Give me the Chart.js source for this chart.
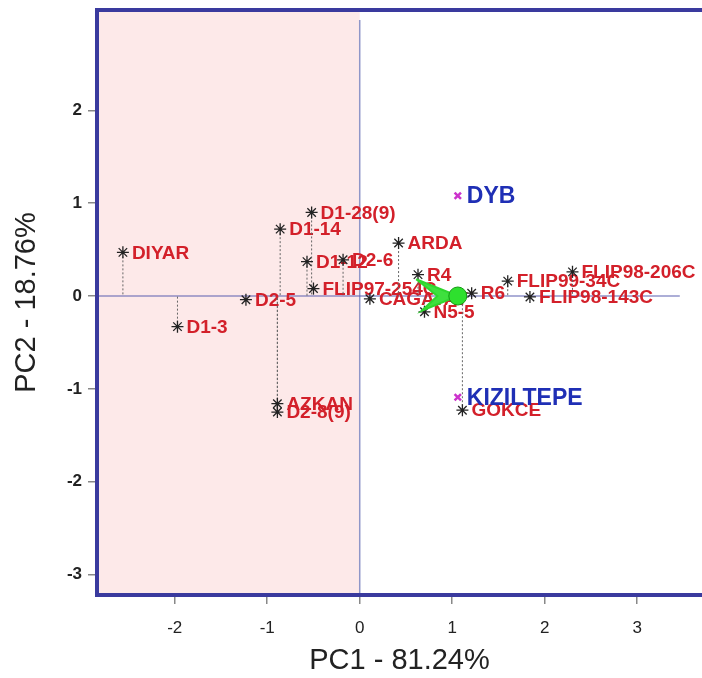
<!DOCTYPE html>
<html>
<head>
<meta charset="utf-8">
<script src="https://cdn.jsdelivr.net/npm/chart.js@4.4.1/dist/chart.umd.min.js"></script>
<style>
  html, body { margin: 0; padding: 0; background: #fff; overflow: hidden; }
  #wrap { width: 702px; height: 678px; }
</style>
</head>
<body>
<div id="wrap"><canvas id="biplot"></canvas></div>
<script>
// genotypes (PC1, PC2 scores)
const genotypes = ['DIYAR', 'D1-3', 'D2-5', 'D1-14', 'D1-28(9)', 'D1-12', 'D2-6', 'FLIP97-254C',
  'CAGATAY', 'ARDA', 'R4', 'N5-5', 'R6', 'FLIP99-34C', 'FLIP98-206C', 'FLIP98-143C',
  'AZKAN', 'D2-8(9)', 'GOKCE']
const genoPC1 = [-2.56, -1.97, -1.23, -0.86, -0.52, -0.57, -0.18, -0.50,
  0.11, 0.42, 0.63, 0.70, 1.21, 1.60, 2.30, 1.84,
  -0.89, -0.89, 1.11]
const genoPC2 = [0.47, -0.33, -0.04, 0.72, 0.90, 0.37, 0.39, 0.08,
  -0.03, 0.57, 0.23, -0.17, 0.03, 0.16, 0.26, -0.01,
  -1.16, -1.25, -1.23]

// environments
const environments = ['DYB', 'KIZILTEPE']
const envPC1 = [1.06, 1.06]
const envPC2 = [1.08, -1.09]

// average environment point and arrow head
const avgPC1 = [1.06]
const avgPC2 = [0.0]
const arrowPC1 = [0.61, 1.06, 0.67, 0.84, 0.61]
const arrowPC2 = [0.18, 0.0, -0.16, 0.0, 0.18]

const xTicks = [-2, -1, 0, 1, 2, 3]
const yTicks = [2, 1, 0, -1, -2, -3]

const blueBorder = '#3a3a9e'
const redLabel = '#d3202a'
const blueLabel = '#1f2fb5'
const fontFam = '"Liberation Sans", Arial, sans-serif'

// dotted drop lines from each genotype to PC2 = 0
let dropData = []
for (let i = 0; i < genotypes.length; i++) {
  dropData.push({x: genoPC1[i], y: genoPC2[i]})
  dropData.push({x: genoPC1[i], y: 0})
  dropData.push({x: genoPC1[i], y: null})
}

const genoData = genotypes.map((g, i) => ({x: genoPC1[i], y: genoPC2[i]}))
const envData = environments.map((e, i) => ({x: envPC1[i], y: envPC2[i]}))
const avgData = avgPC1.map((v, i) => ({x: v, y: avgPC2[i]}))
const arrowData = arrowPC1.map((v, i) => ({x: v, y: arrowPC2[i]}))

// pink half, axis cross lines, point labels and top border
const backdrop = {
  id: 'backdrop',
  beforeDraw(chart) {
    const {ctx, chartArea, scales} = chart
    const x0 = scales.x.getPixelForValue(0)
    const y0 = scales.y.getPixelForValue(0)
    ctx.save()
    ctx.fillStyle = '#fde9e9'
    ctx.fillRect(chartArea.left, chartArea.top, x0 - chartArea.left, chartArea.bottom - chartArea.top)
    ctx.lineWidth = 1.5
    ctx.strokeStyle = '#8f96c8'
    ctx.beginPath()
    ctx.moveTo(x0, chartArea.top + 10)
    ctx.lineTo(x0, chartArea.bottom)
    ctx.stroke()
    ctx.strokeStyle = '#5a5fb0'
    ctx.lineWidth = 1.2
    ctx.beginPath()
    ctx.moveTo(chartArea.left, y0)
    ctx.lineTo(scales.x.getPixelForValue(3.46), y0)
    ctx.stroke()
    ctx.restore()
  },
  beforeDatasetsDraw(chart) {
    const {ctx, scales} = chart
    ctx.save()
    ctx.textBaseline = 'middle'
    ctx.font = 'bold 19px ' + fontFam
    ctx.fillStyle = redLabel
    genotypes.forEach((g, i) => {
      ctx.fillText(g, scales.x.getPixelForValue(genoPC1[i]) + 9, scales.y.getPixelForValue(genoPC2[i]) + 1)
    })
    ctx.font = 'bold 23px ' + fontFam
    ctx.fillStyle = blueLabel
    environments.forEach((e, i) => {
      ctx.fillText(e, scales.x.getPixelForValue(envPC1[i]) + 9, scales.y.getPixelForValue(envPC2[i]) + 1)
    })
    ctx.restore()
  },
  afterDraw(chart) {
    const {ctx, chartArea} = chart
    ctx.save()
    ctx.strokeStyle = blueBorder
    ctx.lineWidth = 4
    ctx.beginPath()
    ctx.moveTo(chartArea.left - 2, chartArea.top)
    ctx.lineTo(chartArea.right + 2, chartArea.top)
    ctx.stroke()
    ctx.restore()
  }
}

new Chart('biplot', {
  type: 'scatter',
  data: {
    datasets: [
      {
        type: 'line',
        data: dropData,
        borderColor: '#666',
        borderWidth: 1,
        borderDash: [2, 2],
        pointRadius: 0,
        spanGaps: false,
        order: 5
      },
      {
        data: genoData,
        pointStyle: 'star',
        pointRadius: 6,
        borderColor: '#222',
        backgroundColor: '#222',
        borderWidth: 1.3,
        order: 4
      },
      {
        data: envData,
        pointStyle: 'crossRot',
        pointRadius: 4.5,
        borderColor: '#cc33cc',
        borderWidth: 2.5,
        order: 3
      },
      {
        type: 'line',
        data: arrowData,
        borderColor: '#2ed62e',
        backgroundColor: '#3ee03e',
        borderWidth: 2,
        fill: 'shape',
        pointRadius: 0,
        tension: 0,
        order: 2
      },
      {
        data: avgData,
        pointStyle: 'circle',
        pointRadius: 9,
        backgroundColor: '#2ee02e',
        borderColor: '#139a13',
        borderWidth: 1,
        order: 1
      }
    ]
  },
  options: {
    responsive: true,
    maintainAspectRatio: false,
    animation: false,
    layout: { autoPadding: false, padding: { top: 10, right: 0, left: 0, bottom: 0 } },
    plugins: {
      legend: { display: false },
      tooltip: { enabled: false }
    },
    scales: {
      x: {
        type: 'linear',
        min: -2.84,
        max: 3.70,
        afterFit: (s) => { s.height = 83; s.paddingLeft = 0; s.paddingRight = 0 },
        afterBuildTicks: (s) => { s.ticks = xTicks.map(v => ({value: v})) },
        border: { display: true, color: blueBorder, width: 4 },
        grid: { display: true, drawOnChartArea: false, drawTicks: true, tickLength: 9, color: '#888', lineWidth: 1.5 },
        ticks: { color: '#222', font: { size: 17, family: fontFam }, padding: 14 },
        title: {
          display: true,
          text: 'PC1 - 81.24%',
          color: '#222',
          font: { size: 29, family: fontFam },
          padding: { top: 0, bottom: 0 }
        }
      },
      y: {
        type: 'linear',
        min: -3.22,
        max: 3.08,
        afterFit: (s) => { s.width = 97; s.paddingTop = 0; s.paddingBottom = 0 },
        afterBuildTicks: (s) => { s.ticks = yTicks.map(v => ({value: v})) },
        border: { display: true, color: blueBorder, width: 4 },
        grid: { display: true, drawOnChartArea: false, drawTicks: true, tickLength: 9, color: '#888', lineWidth: 1.5 },
        ticks: { color: '#222', font: { size: 17, weight: 'bold', family: fontFam }, padding: 6 },
        title: {
          display: true,
          text: 'PC2 - 18.76%',
          color: '#222',
          font: { size: 29, family: fontFam },
          padding: { top: 10, bottom: 0 }
        }
      }
    }
  },
  plugins: [backdrop]
})
</script>
</body>
</html>
